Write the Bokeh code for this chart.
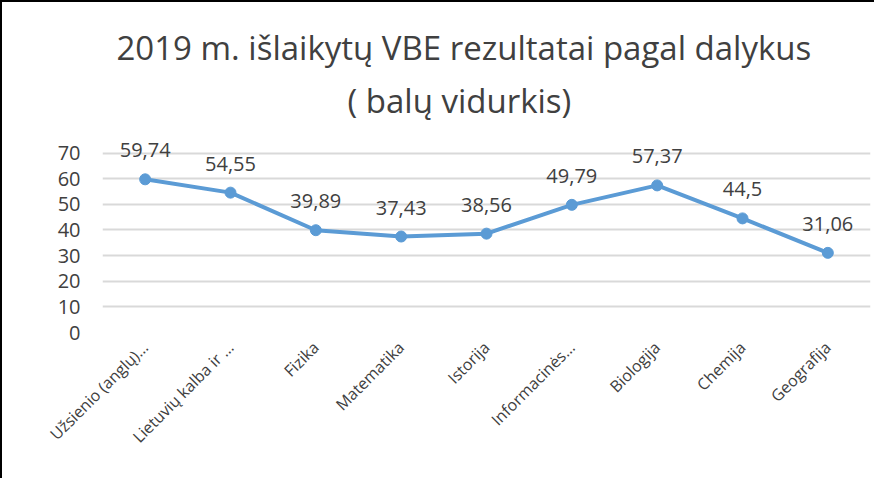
from bokeh.plotting import figure
from bokeh.models import ColumnDataSource, Range1d, FixedTicker, Title
from bokeh.embed import file_html
from bokeh.resources import INLINE
from bokeh.core.properties import value
import math

subjects = ["Užsienio (anglų)…", "Lietuvių kalba ir …", "Fizika", "Matematika", "Istorija",
            "Informacinės…", "Biologija", "Chemija", "Geografija"]
scores = [59.74, 54.55, 39.89, 37.43, 38.56, 49.79, 57.37, 44.5, 31.06]
score_labels = ["59,74", "54,55", "39,89", "37,43", "38,56", "49,79", "57,37", "44,5", "31,06"]
y_ticks = [0, 10, 20, 30, 40, 50, 60, 70]

FONT = "Open Sans"
TXT = "#404040"

src = ColumnDataSource(dict(x=subjects, y=scores, lab=score_labels))

p = figure(x_range=subjects, y_range=Range1d(0, 78), width=874, height=478,
           output_backend="svg", toolbar_location=None,
           min_border_left=100, min_border_right=6, min_border_top=130, min_border_bottom=148)
p.styles = {"border-left": "2px solid black", "border-top": "2px solid black"}
p.outline_line_color = None
p.background_fill_color = "white"
p.border_fill_color = "white"

t2 = Title(text="( balų vidurkis)", align="left", text_font=FONT, text_font_size="33px",
           text_font_style="normal", text_color=TXT, standoff=19, offset=245)
t1 = Title(text="2019 m. išlaikytų VBE rezultatai pagal dalykus", align="left", text_font=FONT,
           text_font_size="33px", text_font_style="normal", text_color=TXT, standoff=-7, offset=14)
p.add_layout(t2, "above")
p.add_layout(t1, "above")

p.line("x", "y", source=src, line_color="#5B9BD5", line_width=4)
p.scatter("x", "y", source=src, size=11, fill_color="#5B9BD5", line_color="#5B9BD5")
p.text("x", "y", text="lab", source=src, text_font=value(FONT), text_font_size="20px",
       text_color=TXT, text_align="center", text_baseline="bottom", y_offset=-22)

p.yaxis.ticker = FixedTicker(ticks=y_ticks)
p.yaxis.axis_line_color = None
p.yaxis.major_tick_line_color = None
p.yaxis.minor_tick_line_color = None
p.yaxis.major_tick_out = 0
p.yaxis.major_tick_in = 0
p.yaxis.major_label_text_font = FONT
p.yaxis.major_label_text_font_size = "20px"
p.yaxis.major_label_text_color = TXT
p.yaxis.major_label_standoff = 22

p.xaxis.axis_line_color = None
p.xaxis.major_tick_line_color = None
p.xaxis.major_tick_out = 0
p.xaxis.major_tick_in = 0
p.xaxis.major_label_orientation = math.pi / 4
p.xaxis.major_label_text_font = FONT
p.xaxis.major_label_text_font_size = "16px"
p.xaxis.major_label_text_color = TXT
p.xaxis.major_label_standoff = 12

p.xgrid.grid_line_color = None
p.ygrid.grid_line_color = "#D9D9D9"
p.ygrid.grid_line_width = 2
p.ygrid.ticker = FixedTicker(ticks=y_ticks)

open("out.html", "w").write(file_html(p, INLINE))
